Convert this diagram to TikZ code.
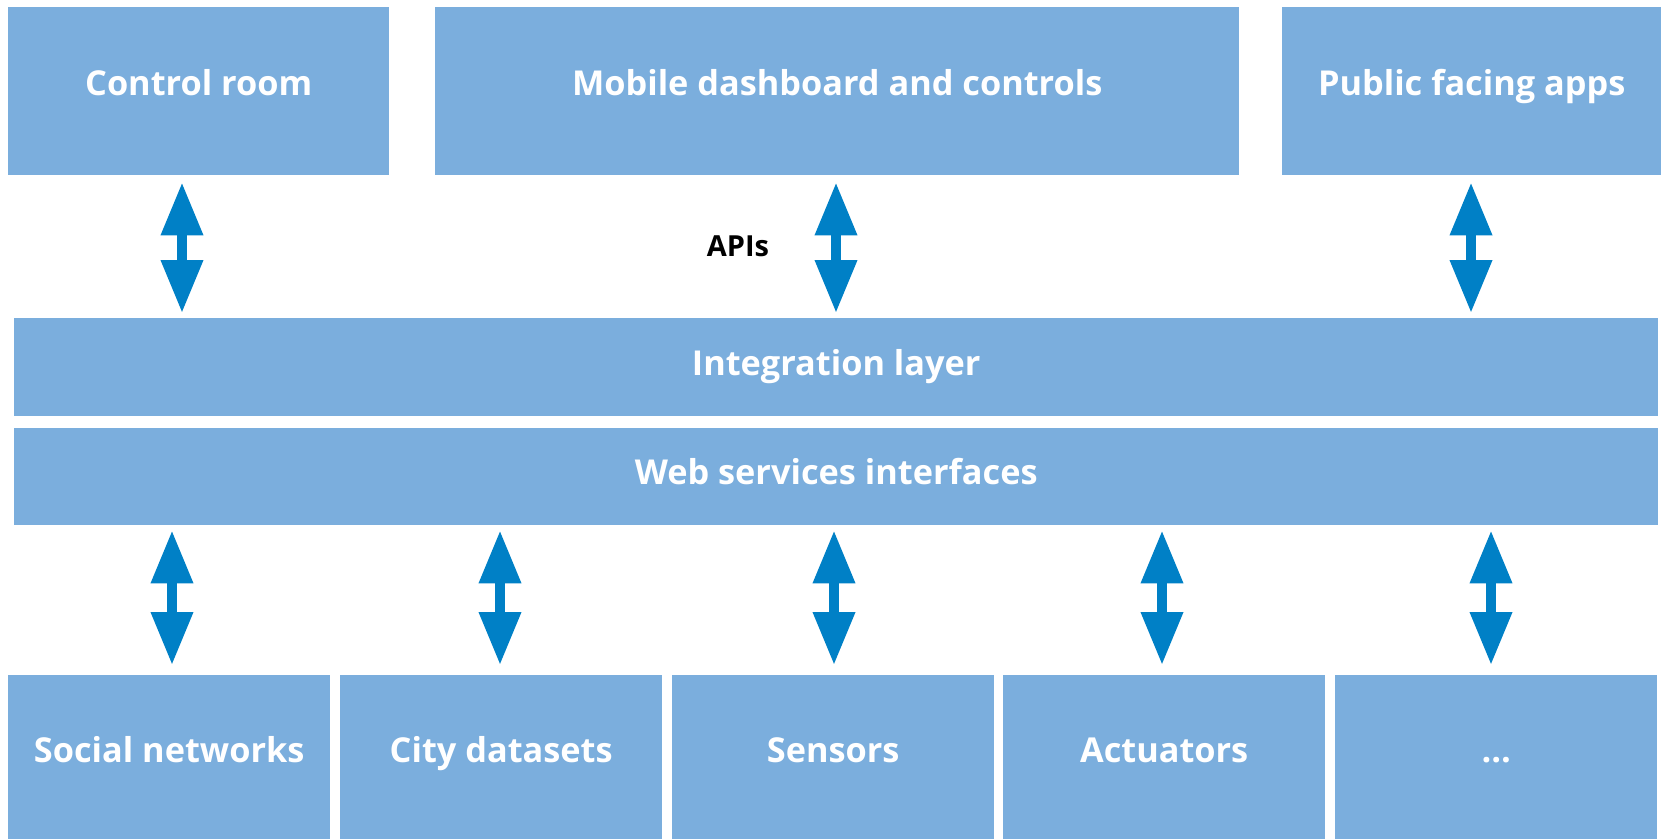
\documentclass[tikz,border=0pt]{standalone}
\usepackage{fontspec}
\setmainfont{Open Sans}
\usetikzlibrary{arrows.meta}
\definecolor{boxblue}{RGB}{123,174,221}
\definecolor{arrowblue}{RGB}{0,128,198}
\begin{document}
\begin{tikzpicture}[x=1pt,y=-1pt,
  blk/.style={fill=boxblue, text=white, font=\fontsize{34.3}{40}\selectfont\bfseries,
    inner sep=0pt, anchor=north west, text height=25pt, text depth=#1},
  blk/.default=14pt,
  arr/.style={draw=arrowblue, line width=10pt,
    {Triangle[length=53pt,width=40pt]}-{Triangle[length=53pt,width=40pt]}},
  lbl/.style={font=\fontsize{29}{32}\selectfont\bfseries, text=black, inner sep=0pt}
]
\useasboundingbox (0,0) rectangle (1661,839);
% top row
\node[blk=16pt, minimum width=381pt, minimum height=168pt] (cr) at (8,7) {Control room};
\node[blk=16pt, minimum width=804pt, minimum height=168pt] (mob) at (435,7) {Mobile dashboard and controls};
\node[blk=16pt, minimum width=379pt, minimum height=168pt] (pub) at (1282,7) {Public facing apps};
% layers
\node[blk=9pt, minimum width=1644pt, minimum height=98pt] (int) at (14,318) {Integration layer};
\node[blk=9pt, minimum width=1644pt, minimum height=97pt] (web) at (14,428) {Web services interfaces};
% bottom row
\node[blk=14pt, minimum width=322pt, minimum height=164pt] (soc) at (8,675) {Social networks};
\node[blk=14pt, minimum width=322pt, minimum height=164pt] (city) at (340,675) {City datasets};
\node[blk=14pt, minimum width=322pt, minimum height=164pt] (sens) at (672,675) {Sensors};
\node[blk=14pt, minimum width=322pt, minimum height=164pt] (act) at (1003,675) {Actuators};
\node[blk=14pt, minimum width=322pt, minimum height=164pt] (more) at (1335,675) {\dots};
% label
\node[lbl] (apis) at (738,246) {APIs};
% top arrows
\draw[arr, shorten <=7pt, shorten >=5pt] (182,0 |- cr.south) -- (182,0 |- int.north);
\draw[arr, shorten <=7pt, shorten >=5pt] (836,0 |- mob.south) -- (836,0 |- int.north);
\draw[arr, shorten <=7pt, shorten >=5pt] (1471,0 |- pub.south) -- (1471,0 |- int.north);
% bottom arrows
\draw[arr, shorten <=5pt, shorten >=10pt] (172,0 |- web.south) -- (172,0 |- soc.north);
\draw[arr, shorten <=5pt, shorten >=10pt] (500,0 |- web.south) -- (500,0 |- city.north);
\draw[arr, shorten <=5pt, shorten >=10pt] (834,0 |- web.south) -- (834,0 |- sens.north);
\draw[arr, shorten <=5pt, shorten >=10pt] (1162,0 |- web.south) -- (1162,0 |- act.north);
\draw[arr, shorten <=5pt, shorten >=10pt] (1491,0 |- web.south) -- (1491,0 |- more.north);
\end{tikzpicture}
\end{document}
